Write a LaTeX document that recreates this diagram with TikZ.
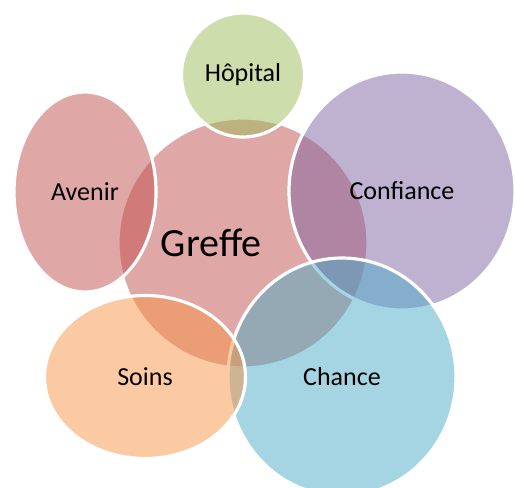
\documentclass[tikz,border=0pt]{standalone}
\usepackage{fontspec}
\setmainfont{Carlito}
\usetikzlibrary{shapes.geometric}
\definecolor{rouge}{HTML}{C0504D}
\definecolor{olive}{HTML}{9BBB59}
\definecolor{violet}{HTML}{8064A2}
\definecolor{aqua}{HTML}{4BACC6}
\definecolor{orange}{HTML}{F79646}
\begin{document}
\begin{tikzpicture}[x=1pt, y=-1pt,
    bulle/.style={ellipse, draw=white, line width=3.2pt, fill opacity=0.5,
      text opacity=1, inner sep=0pt, font=\fontsize{26}{30}\selectfont},
    mot/.style={inner sep=1pt, font=\fontsize{40}{46}\selectfont}]
  \useasboundingbox (0,0) rectangle (515,488);
  \node[bulle, fill=rouge, minimum width=250pt, minimum height=250pt] (greffe) at (243,243) {};
  \node[mot] (greffetxt) at (211,243) {Greffe};
  \node[bulle, fill=olive, minimum width=123pt, minimum height=124pt] (hopital) at (243,75) {Hôpital};
  \node[bulle, fill=violet, minimum width=226pt, minimum height=238pt] (confiance) at (402,191) {Confiance};
  \node[bulle, fill=aqua, minimum width=228pt, minimum height=238pt] (chance) at (342,377) {Chance};
  \node[bulle, fill=orange, minimum width=201pt, minimum height=163pt] (soins) at (145,377) {Soins};
  \node[bulle, fill=rouge, minimum width=142pt, minimum height=200pt] (avenir) at (85,192) {Avenir};
\end{tikzpicture}
\end{document}
